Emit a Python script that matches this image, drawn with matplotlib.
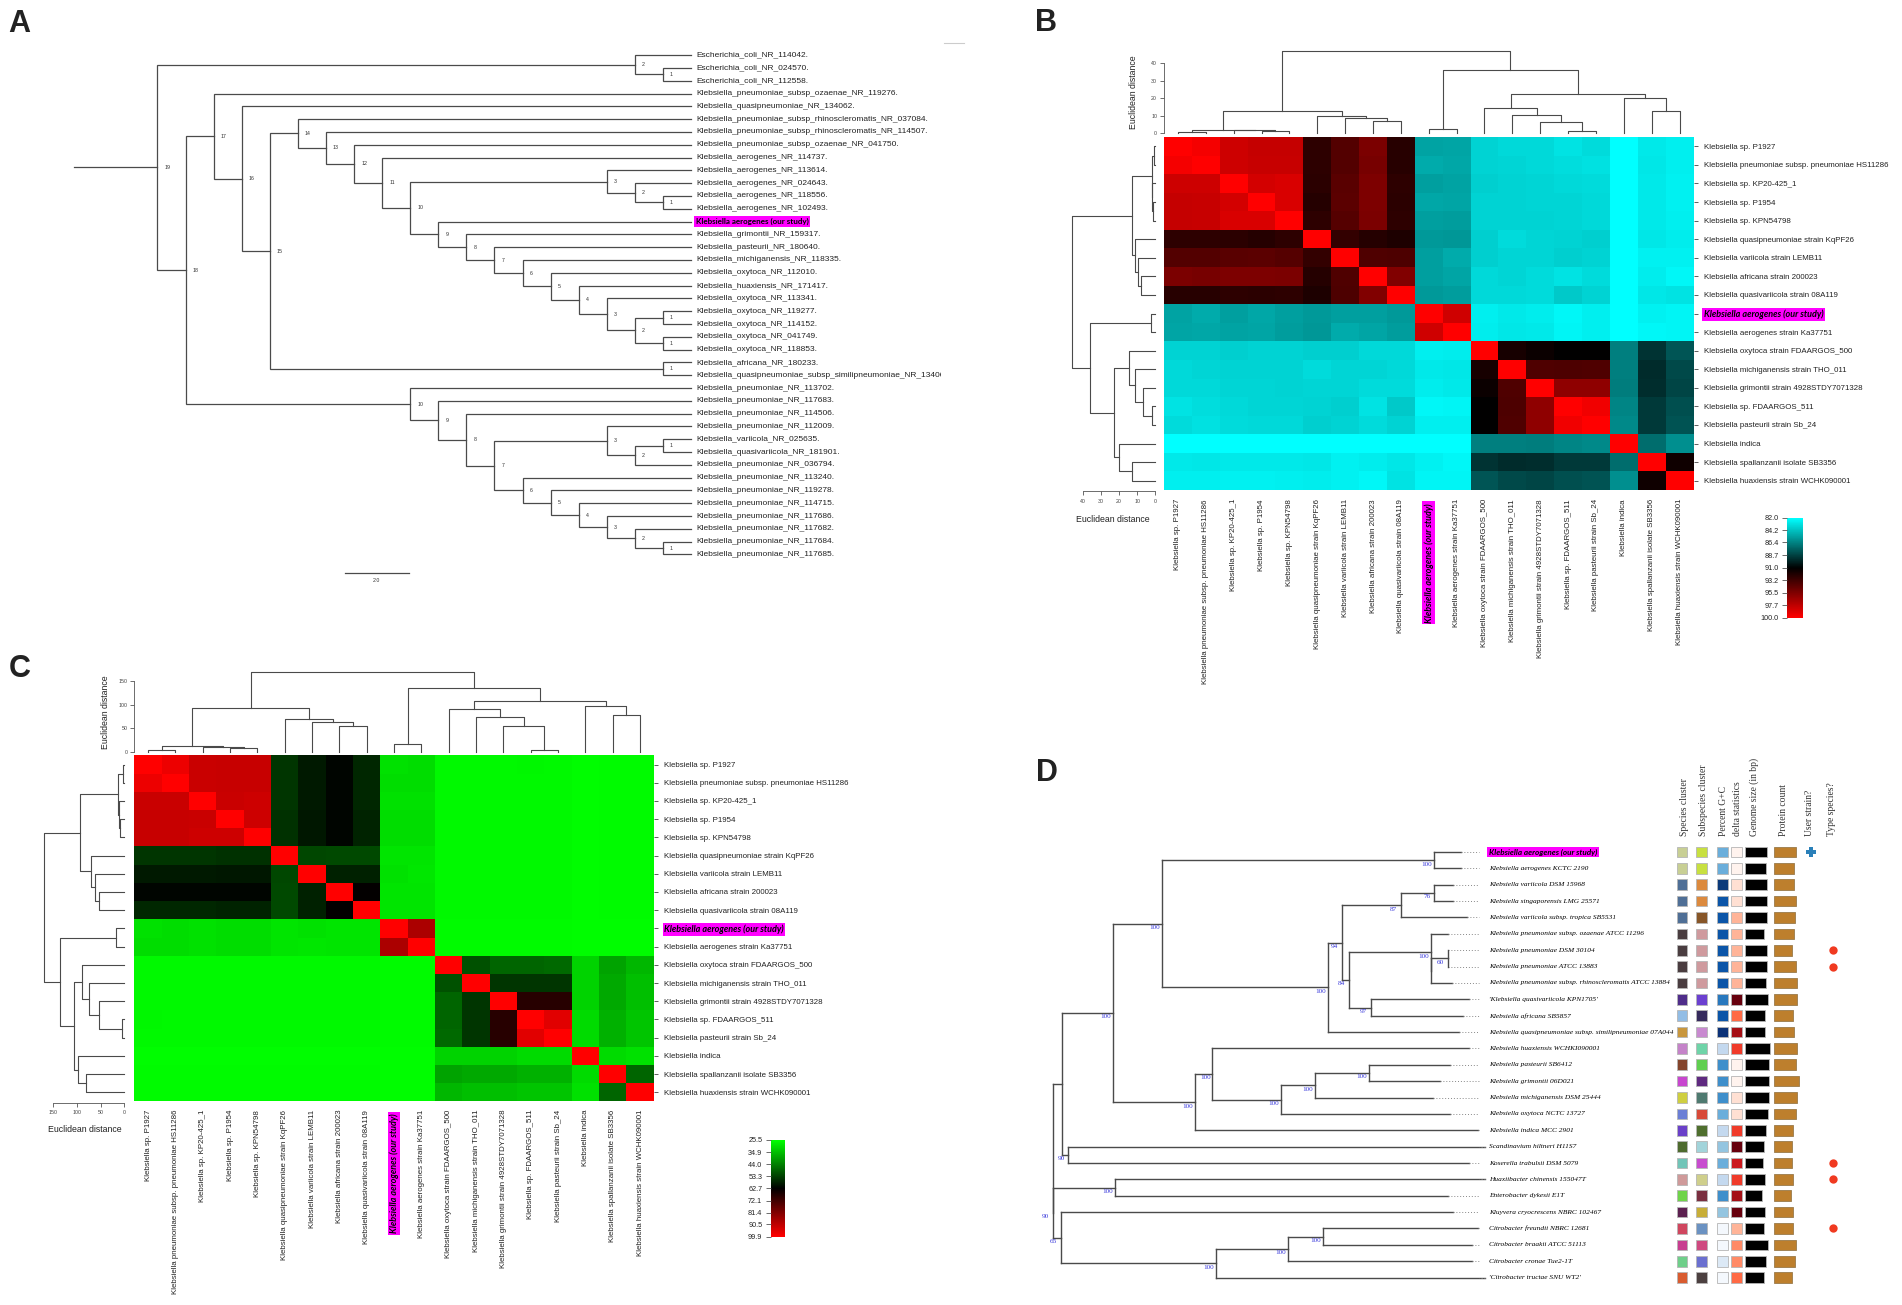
import numpy as np
import matplotlib
matplotlib.use("Agg")
import matplotlib.pyplot as plt
from matplotlib.colors import LinearSegmentedColormap
from matplotlib.lines import Line2D
from matplotlib.transforms import ScaledTranslation

W, H = 1902, 1305
plt.rcParams['font.family'] = ['Liberation Sans', 'DejaVu Sans']

# ---------- panel A data ----------
A_TIPS = [
    "Escherichia_coli_NR_114042.", "Escherichia_coli_NR_024570.", "Escherichia_coli_NR_112558.",
    "Klebsiella_pneumoniae_subsp_ozaenae_NR_119276.", "Klebsiella_quasipneumoniae_NR_134062.",
    "Klebsiella_pneumoniae_subsp_rhinoscleromatis_NR_037084.",
    "Klebsiella_pneumoniae_subsp_rhinoscleromatis_NR_114507.",
    "Klebsiella_pneumoniae_subsp_ozaenae_NR_041750.", "Klebsiella_aerogenes_NR_114737.",
    "Klebsiella_aerogenes_NR_113614.", "Klebsiella_aerogenes_NR_024643.",
    "Klebsiella_aerogenes_NR_118556.", "Klebsiella_aerogenes_NR_102493.",
    "Klebsiella aerogenes (our study)", "Klebsiella_grimontii_NR_159317.",
    "Klebsiella_pasteurii_NR_180640.", "Klebsiella_michiganensis_NR_118335.",
    "Klebsiella_oxytoca_NR_112010.", "Klebsiella_huaxiensis_NR_171417.",
    "Klebsiella_oxytoca_NR_113341.", "Klebsiella_oxytoca_NR_119277.",
    "Klebsiella_oxytoca_NR_114152.", "Klebsiella_oxytoca_NR_041749.",
    "Klebsiella_oxytoca_NR_118853.", "Klebsiella_africana_NR_180233.",
    "Klebsiella_quasipneumoniae_subsp_similipneumoniae_NR_134063.",
    "Klebsiella_pneumoniae_NR_113702.", "Klebsiella_pneumoniae_NR_117683.",
    "Klebsiella_pneumoniae_NR_114506.", "Klebsiella_pneumoniae_NR_112009.",
    "Klebsiella_variicola_NR_025635.", "Klebsiella_quasivariicola_NR_181901.",
    "Klebsiella_pneumoniae_NR_036794.", "Klebsiella_pneumoniae_NR_113240.",
    "Klebsiella_pneumoniae_NR_119278.", "Klebsiella_pneumoniae_NR_114715.",
    "Klebsiella_pneumoniae_NR_117686.", "Klebsiella_pneumoniae_NR_117682.",
    "Klebsiella_pneumoniae_NR_117684.", "Klebsiella_pneumoniae_NR_117685.",
]
A_HIGHLIGHT = 13
# (level, child, child), ints are tips
A_TREE_ECOLI = (2, 0, (1, 1, 2))
A_TREE_OXYTOCA = (3, 19, (2, (1, 20, 21), (1, 22, 23)))
A_TREE_CORE = (9, 13, (8, 14, (7, 15, (6, 16, (5, 17, (4, 18, A_TREE_OXYTOCA))))))
A_TREE_AERO = (10, (3, 9, (2, 10, (1, 11, 12))), A_TREE_CORE)
A_TREE_RHINO = (14, 5, (13, 6, (12, 7, (11, 8, A_TREE_AERO))))
A_TREE_UPPER = (17, 3, (16, 4, (15, A_TREE_RHINO, (1, 24, 25))))
A_TREE_PN = (7, (3, 29, (2, (1, 30, 31), 32)), (6, 33, (5, 34, (4, 35, (3, 36, (2, 37, (1, 38, 39)))))))
A_TREE_LOWER = (10, 26, (9, 27, (8, 28, A_TREE_PN)))
A_TREE = (19, A_TREE_ECOLI, (18, A_TREE_UPPER, A_TREE_LOWER))

# ---------- panels B, C data ----------
HEAT_LABELS = [
    "Klebsiella sp. P1927", "Klebsiella pneumoniae subsp. pneumoniae HS11286",
    "Klebsiella sp. KP20-425_1", "Klebsiella sp. P1954", "Klebsiella sp. KPN54798",
    "Klebsiella quasipneumoniae strain KqPF26", "Klebsiella variicola strain LEMB11",
    "Klebsiella africana strain 200023", "Klebsiella quasivariicola strain 08A119",
    "Klebsiella aerogenes (our study)", "Klebsiella aerogenes strain Ka37751",
    "Klebsiella oxytoca strain FDAARGOS_500", "Klebsiella michiganensis strain THO_011",
    "Klebsiella grimontii strain 4928STDY7071328", "Klebsiella sp. FDAARGOS_511",
    "Klebsiella pasteurii strain Sb_24", "Klebsiella indica",
    "Klebsiella spallanzanii isolate SB3356", "Klebsiella huaxiensis strain WCHK090001",
]
HEAT_HIGHLIGHT = 9

# upper triangle, row by row
B_VALUES = [
    [100, 99.6, 98.2, 97.9, 97.9, 92.6, 93.9, 95.3, 92.4, 85.3, 85.2, 83.6, 83.4, 83.4, 83.0, 83.3, 82.0, 82.8, 82.6],
    [100, 98.2, 98.0, 98.0, 92.6, 93.9, 95.2, 92.4, 85.0, 85.1, 83.6, 83.5, 83.4, 83.2, 83.1, 82.0, 82.9, 82.6],
    [100, 98.4, 98.6, 92.5, 94.1, 95.4, 92.6, 85.4, 85.3, 83.7, 83.6, 83.5, 83.4, 83.3, 82.0, 82.8, 82.5],
    [100, 98.6, 92.3, 94.2, 95.4, 92.5, 85.1, 85.2, 83.6, 83.6, 83.5, 83.5, 83.4, 82.0, 82.8, 82.5],
    [100, 92.6, 94.0, 95.3, 92.6, 85.4, 85.5, 83.6, 83.6, 83.6, 83.5, 83.4, 82.0, 82.8, 82.6],
    [100, 92.8, 92.3, 92.0, 85.6, 85.7, 83.7, 83.3, 83.5, 83.6, 83.7, 82.0, 82.9, 82.7],
    [100, 93.8, 93.7, 85.4, 85.0, 83.7, 83.5, 83.5, 83.7, 83.6, 82.0, 82.5, 82.5],
    [100, 95.5, 85.4, 85.2, 83.4, 83.5, 83.3, 83.0, 83.3, 82.0, 82.7, 82.3],
    [100, 85.6, 85.5, 83.4, 83.4, 83.3, 83.9, 83.6, 82.0, 82.9, 83.0],
    [100, 98.3, 82.6, 82.8, 82.7, 82.3, 82.6, 82.0, 82.5, 82.4],
    [100, 82.7, 82.9, 82.8, 82.4, 82.6, 82.0, 82.3, 82.4],
    [100, 91.8, 91.4, 91.0, 91.0, 86.5, 89.2, 88.0],
    [100, 93.8, 93.7, 93.8, 86.5, 89.5, 88.4],
    [100, 96.0, 96.0, 86.6, 89.4, 88.6],
    [100, 99.5, 86.3, 89.0, 88.2],
    [100, 86.2, 89.0, 88.1],
    [100, 87.2, 86.0],
    [100, 91.5],
    [100],
]
C_VALUES = [
    [99.9, 97.0, 92.0, 91.5, 91.5, 55.0, 59.0, 62.0, 57.0, 30.0, 30.5, 26.5, 26.5, 26.5, 26.7, 26.5, 26.0, 26.2, 26.1],
    [99.9, 92.0, 91.5, 91.5, 55.0, 59.0, 62.0, 57.0, 30.5, 30.5, 26.5, 26.5, 26.5, 26.6, 26.5, 26.0, 26.2, 26.1],
    [99.9, 92.0, 92.5, 55.0, 59.0, 62.0, 57.0, 30.0, 30.0, 26.5, 26.5, 26.5, 26.6, 26.5, 26.0, 26.2, 26.1],
    [99.9, 92.5, 55.5, 59.5, 62.0, 57.5, 30.5, 30.5, 26.5, 26.5, 26.5, 26.6, 26.5, 26.0, 26.2, 26.1],
    [99.9, 55.5, 59.5, 62.0, 57.5, 30.5, 30.5, 26.5, 26.5, 26.5, 26.6, 26.5, 26.0, 26.2, 26.1],
    [99.9, 52.5, 52.0, 52.0, 29.5, 29.5, 26.5, 26.5, 26.5, 26.5, 26.5, 26.0, 26.2, 26.1],
    [99.9, 58.0, 58.0, 30.0, 29.0, 26.5, 26.5, 26.5, 26.5, 26.5, 26.0, 26.2, 26.1],
    [99.9, 63.0, 29.5, 29.5, 26.5, 26.5, 26.5, 26.5, 26.5, 26.0, 26.2, 26.1],
    [99.9, 29.5, 29.5, 26.5, 26.5, 26.5, 26.5, 26.5, 26.0, 26.2, 26.1],
    [99.9, 87.5, 26.2, 26.2, 26.2, 26.2, 26.2, 25.8, 26.0, 25.9],
    [99.9, 26.2, 26.2, 26.2, 26.2, 26.2, 25.8, 26.0, 25.9],
    [99.9, 51.0, 48.0, 48.0, 47.5, 32.0, 39.0, 36.0],
    [99.9, 55.0, 55.0, 55.0, 32.0, 38.0, 35.0],
    [99.9, 68.5, 68.5, 32.0, 38.0, 35.0],
    [99.9, 95.5, 31.0, 37.0, 34.0],
    [99.9, 31.0, 37.0, 34.0],
    [99.9, 31.0, 30.0],
    [99.9, 48.0],
    [99.9],
]

# same clustering in both heatmaps, only the heights differ
HEAT_TREE = ("root",
    ("a",
        ("small", ("s01", 0, 1), ("s2", 2, ("s34", 3, 4))),
        ("mid", 5, ("m1", 6, ("m2", 7, 8)))),
    ("r1",
        ("pair", 9, 10),
        ("r2",
            ("r3", 11, ("r31", 12, ("r32", 13, ("r33", 14, 15)))),
            ("r4", 16, ("r41", 17, 18)))))

B_TOP_HEIGHTS = {"root": 46.9, "a": 12.5, "small": 1.9, "s01": 0.7, "s2": 1.7, "s34": 1.5,
                 "mid": 10.0, "m1": 8.7, "m2": 7.3, "r1": 36.2, "pair": 2.3, "r2": 22.5,
                 "r3": 14.4, "r31": 10.3, "r32": 6.6, "r33": 1.1, "r4": 20.0, "r41": 12.5}
B_LEFT_HEIGHTS = {"root": 46.2, "a": 12.7, "small": 1.6, "s01": 0.8, "s2": 1.5, "s34": 1.2,
                  "mid": 10.9, "m1": 9.3, "m2": 7.8, "r1": 36.0, "pair": 2.2, "r2": 22.6,
                  "r3": 14.6, "r31": 10.9, "r32": 6.8, "r33": 1.9, "r4": 20.2, "r41": 12.7}
C_TOP_HEIGHTS = {"root": 170, "a": 93.4, "small": 12.6, "s01": 3.6, "s2": 10.8, "s34": 9.0,
                 "mid": 70, "m1": 64, "m2": 55.7, "r1": 135.7, "pair": 16, "r2": 108,
                 "r3": 90.7, "r31": 74.6, "r32": 54, "r33": 3.6, "r4": 98, "r41": 79}
C_LEFT_HEIGHTS = {"root": 170, "a": 93.4, "small": 12.7, "s01": 3.5, "s2": 11, "s34": 9.5,
                  "mid": 70, "m1": 63, "m2": 54, "r1": 135, "pair": 17, "r2": 107,
                  "r3": 89, "r31": 75, "r32": 54, "r33": 5.8, "r4": 98, "r41": 80}

B_CBAR_TICKS = [82.0, 84.2, 86.4, 88.7, 91.0, 93.2, 95.5, 97.7, 100.0]
C_CBAR_TICKS = [25.5, 34.9, 44.0, 53.3, 62.7, 72.1, 81.4, 90.5, 99.9]

# ---------- panel D data ----------
D_TIPS = [
    "Klebsiella aerogenes (our study)", "Klebsiella aerogenes KCTC 2190",
    "Klebsiella variicola DSM 15968", "Klebsiella singaporensis LMG 25571",
    "Klebsiella variicola subsp. tropica SB5531", "Klebsiella pneumoniae subsp. ozaenae ATCC 11296",
    "Klebsiella pneumoniae DSM 30104", "Klebsiella pneumoniae ATCC 13883",
    "Klebsiella pneumoniae subsp. rhinoscleromatis ATCC 13884", "'Klebsiella quasivariicola KPN1705'",
    "Klebsiella africana SB5857", "Klebsiella quasipneumoniae subsp. similipneumoniae 07A044",
    "Klebsiella huaxiensis WCHKI090001", "Klebsiella pasteurii SB6412", "Klebsiella grimontii 06D021",
    "Klebsiella michiganensis DSM 25444", "Klebsiella oxytoca NCTC 13727", "Klebsiella indica MCC 2901",
    "Scandinavium hiltneri H11S7", "Koserella trabulsii DSM 5079", "Huaxiibacter chinensis 155047T",
    "Enterobacter dykesii E1T", "Kluyvera cryocrescens NBRC 102467", "Citrobacter freundii NBRC 12681",
    "Citrobacter braakii ATCC 51113", "Citrobacter cronae Tue2-1T", "'Citrobacter tructae SNU WT2'",
]
D_TIP_DEPTH = [775, 775, 760, 760, 785, 752, 752, 752, 758, 790, 778, 772, 790, 755, 738, 725,
               755, 805, 818, 790, 818, 752, 760, 805, 795, 795, 818]
# (depth, support, child, child), None is the next tip
D_TREE_PN = (721, 100, None, (721, None, (751, 60, None, None), None))
D_TREE_KP = (536, 100,
             (561, 94,
              (667, 87, (727, 76, None, None), None),
              (573, 84, D_TREE_PN, (613, 97, None, None))),
             None)
D_TREE_KO = (296, 100,
             (328, 100, None, (452, 100, (513, 100, (610, 100, None, None), None), None)),
             None)
D_TREE_KLEB = (149, 100, (237, 100, (727, 100, None, None), D_TREE_KP), D_TREE_KO)
D_TREE_CIT = (55, 65, None, (335, 100, (464, 100, (527, 100, None, None), None), None))
D_TREE = (41, None,
          (57, None, D_TREE_KLEB, (69, 90, None, None)),
          (41, 90, (152, 100, None, None), D_TREE_CIT))

SPECIES_COLORS = ["#c8cf94", "#c8cf94", "#4f6f96", "#4f6f96", "#4f6f96", "#4a3d40", "#4a3d40", "#4a3d40", "#4a3d40",
                  "#4f2d8a", "#93bde5", "#c9973d", "#c583c9", "#84442c", "#c846cf", "#cfcf40", "#6b7fd6", "#6a40c9",
                  "#4e6b2e", "#71c5b8", "#cf9a9a", "#6fd44a", "#5c2050", "#d0465f", "#c83e90", "#6fcf8a", "#d95c30"]
SUBSPECIES_COLORS = ["#c8e040", "#c8e040", "#dc8a3e", "#dc8a3e", "#875628", "#cf9a9e", "#cf9a9e", "#cf9a9e", "#cf9a9e",
                     "#6b40d0", "#362a5c", "#c98ad0", "#6fd4a8", "#60cf50", "#5f2a80", "#4f7a70", "#d84a38", "#4f6f2e",
                     "#a2d4da", "#c84ccf", "#cfcf8c", "#7a2f40", "#c8ae38", "#6b92c2", "#cf4a80", "#6b70d0", "#4c4040"]
GC_COLORS = ["#6aaedb", "#6aaedb", "#0b3a7a", "#0b55a8", "#0b55a8", "#0b55a8", "#0b55a8", "#0b55a8", "#0b55a8",
             "#2878be", "#0b55a8", "#0b3278", "#c4d9ef", "#3f8fcb", "#3f8fcb", "#3f8fcb", "#6aaedb", "#c4d9ef",
             "#94c5e0", "#6aaedb", "#c4d9ef", "#3f8fcb", "#94c5e0", "#f4f8fd", "#f4f8fd", "#dce9f6", "#f4f8fd"]
DELTA_COLORS = ["#fff3ee", "#fff3ee", "#ffe0d3", "#ffe0d3", "#ffb498", "#ffb498", "#ffb498", "#ffb498", "#ffb498",
                "#67000d", "#ff6a45", "#a50f15", "#f03b2a", "#fff3ee", "#fff3ee", "#ffe0d3", "#ffe0d3", "#f03b2a",
                "#67000d", "#cb181d", "#f03b2a", "#a50f15", "#67000d", "#ffb498", "#ff8a66", "#ff8a66", "#ff6a45"]
GENOME_MB = [5.33, 5.17, 5.33, 5.5, 5.33, 4.75, 5.33, 5.33, 5.17, 5.75, 5.0, 5.0, 6.17, 6.0, 6.0, 5.92, 5.75,
             5.17, 4.75, 4.5, 5.0, 4.25, 5.0, 4.75, 5.58, 5.17, 4.75]
PROTEIN_K = [5.04, 4.65, 4.65, 5.04, 4.88, 4.65, 4.26, 5.04, 5.43, 5.35, 4.5, 4.65, 5.35, 5.19, 5.74, 5.35, 5.04,
             4.5, 4.26, 4.26, 4.5, 3.88, 4.5, 4.5, 5.04, 4.88, 4.26]
USER_STRAIN_ROWS = [0]
TYPE_SPECIES_ROWS = [6, 7, 19, 20, 23]
D_HEADERS = ["Species cluster", "Subspecies cluster", "Percent G+C", "delta statistics",
             "Genome size (in bp)", "Protein count", "User strain?", "Type species?"]

MAGENTA = "#ff00ff"
TEXT = "#222222"
LINE = "#4a4a4a"

fig = plt.figure(figsize=(W / 100, H / 100), dpi=100, facecolor="white")


def axes_px(x0, y0, x1, y1):
    ax = fig.add_axes([x0 / W, 1 - y1 / H, (x1 - x0) / W, (y1 - y0) / H])
    ax.patch.set_alpha(0)
    return ax


def bare(ax):
    ax.set_xticks([])
    ax.set_yticks([])
    for s in ax.spines.values():
        s.set_visible(False)


def highlight(t, size, style="normal"):
    t.set(family=["Lato", "DejaVu Sans"], fontweight="bold", fontstyle=style, fontsize=size, color="black",
          bbox=dict(facecolor=MAGENTA, edgecolor="none", pad=1.2))


# ---------- A ----------
ax = axes_px(691 - 28.08 * 22, 42.3, 941, 592.9)
ax.set_xlim(22, -(941 - 691) / 28.08)
ax.set_ylim(42, -1)
bare(ax)


def draw_a(node):
    if isinstance(node, int):
        return node, 0
    level, left, right = node
    y1, l1 = draw_a(left)
    y2, l2 = draw_a(right)
    ax.plot([l1, level, level, l2], [y1, y1, y2, y2], color=LINE, lw=0.9, solid_joinstyle="miter")
    y = (y1 + y2) / 2
    ax.text(level - 0.25, y, str(level), fontsize=3.8, color="#333333", va="center", ha="left")
    return y, level


root_y, root_level = draw_a(A_TREE)
ax.plot([21.97, root_level], [root_y, root_y], color=LINE, lw=0.9)
for i, name in enumerate(A_TIPS):
    t = ax.text(-0.18, i, name, fontsize=6.0, color=TEXT, va="center", ha="left", clip_on=True)
    if i == A_HIGHLIGHT:
        highlight(t, 5.8)
ax.plot([12.33, 10.04], [40.44, 40.44], color=LINE, lw=0.9)
ax.text(11.2, 41.05, "2.0", fontsize=3.8, color="#333333", ha="center", va="center")
fig.add_artist(Line2D([944 / W, 964 / W], [1 - 43 / H, 1 - 43 / H], color="#cccccc", lw=0.8))


# ---------- B, C ----------
def dendro(node, heights):
    """Returns list of segments and (position, height) of the node."""
    if isinstance(node, int):
        return [], node + 0.5, 0
    name, left, right = node
    s1, p1, h1 = dendro(left, heights)
    s2, p2, h2 = dendro(right, heights)
    h = heights[name]
    return s1 + s2 + [([p1, p1, p2, p2], [h1, h, h, h2])], (p1 + p2) / 2, h


def heat_panel(box, values, colors, vmin, vmax, top_heights, left_heights, top_scale, left_scale,
               top_ticks, left_ticks, top_label, left_label, cbar_box, cbar_ticks, bar_gap, left_axis_x0):
    x0, y0, x1, y1 = box
    n = len(values)
    matrix = np.zeros((n, n))
    for i, row in enumerate(values):
        matrix[i, i:] = row
        matrix[i:, i] = row
    cmap = LinearSegmentedColormap.from_list("heat", colors)
    hm = axes_px(x0, y0, x1, y1)
    mesh = hm.pcolormesh(np.arange(n + 1), np.arange(n + 1), matrix, cmap=cmap, vmin=vmin, vmax=vmax)
    hm.set_xlim(0, n)
    hm.set_ylim(n, 0)
    for s in hm.spines.values():
        s.set_visible(False)
    hm.yaxis.tick_right()
    hm.set_yticks(np.arange(n) + 0.5, HEAT_LABELS, fontsize=5.65, color=TEXT)
    hm.set_xticks(np.arange(n) + 0.5, HEAT_LABELS, fontsize=5.65, color=TEXT, rotation=90, va="top", ha="center")
    hm.tick_params(axis="y", length=3, width=0.6, pad=4.5, color="#444444")
    hm.tick_params(axis="x", length=0, pad=bar_gap)
    highlight(hm.get_yticklabels()[HEAT_HIGHLIGHT], 6.5, "italic")
    lab = hm.get_xticklabels()[HEAT_HIGHLIGHT]
    highlight(lab, 6.5, "italic")
    lab.set_transform(lab.get_transform() + ScaledTranslation(0, -4 / 100, fig.dpi_scale_trans))

    # top dendrogram
    top = axes_px(x0, y0 - 3.6 - top_scale * max(top_ticks) * 1.25, x1, y0 - 3.6)
    top.set_xlim(0, n)
    top.set_ylim(0, max(top_ticks) * 1.25)
    for xs, ys in dendro(HEAT_TREE, top_heights)[0]:
        top.plot(xs, ys, color=LINE, lw=0.8, clip_on=False)
    for s in ["top", "right", "bottom"]:
        top.spines[s].set_visible(False)
    top.spines["left"].set_bounds(0, max(top_ticks))
    top.spines["left"].set(linewidth=0.6, color="#555555")
    top.set_xticks([])
    top.set_yticks(top_ticks)
    top.tick_params(axis="y", length=3, width=0.6, labelsize=3.8, pad=2, color="#555555", labelcolor="#444444")
    top.text(top_label[0], top_label[1], "Euclidean distance", transform=fig.transFigure, rotation=90,
             fontsize=6.3, color=TEXT, ha="center", va="center")

    # left dendrogram
    x_zero = left_axis_x0
    span = max(left_ticks) * 1.3
    lft = axes_px(x_zero - left_scale * span, y0, x_zero, y1)
    lft.set_xlim(span, 0)
    lft.set_ylim(n, 0)
    for ys, xs in dendro(HEAT_TREE, left_heights)[0]:
        lft.plot(xs, ys, color=LINE, lw=0.8, clip_on=False)
    for s in ["top", "right", "left"]:
        lft.spines[s].set_visible(False)
    lft.spines["bottom"].set_bounds(0, max(left_ticks))
    lft.spines["bottom"].set(linewidth=0.6, color="#555555", position=("outward", 1))
    lft.set_yticks([])
    lft.set_xticks(left_ticks)
    lft.tick_params(axis="x", length=3, width=0.6, labelsize=3.8, pad=2.5, color="#555555", labelcolor="#444444")
    lft.text(left_label[0], left_label[1], "Euclidean distance", transform=fig.transFigure,
             fontsize=6.3, color=TEXT, ha="center", va="center")

    # colour key
    cax = axes_px(*cbar_box)
    cb = fig.colorbar(mesh, cax=cax, ticks=cbar_ticks, format="%.1f")
    cax.yaxis.set_ticks_position("left")
    cax.invert_yaxis()
    cb.outline.set_visible(False)
    cax.tick_params(axis="y", length=3.5, width=0.6, labelsize=5.2, pad=2.5, color="#555555", labelcolor=TEXT)


heat_panel((1164, 137, 1693.5, 490), B_VALUES, ["#00ffff", "#000000", "#ff0000"], 82, 100,
           B_TOP_HEIGHTS, B_LEFT_HEIGHTS, 1.7525, 1.794, [0, 10, 20, 30, 40], [0, 10, 20, 30, 40],
           (1134 / W, 1 - 92.4 / H), (1113 / W, 1 - 519 / H),
           (1787, 518, 1803, 618), B_CBAR_TICKS, 6.5, 1155)
heat_panel((134.4, 755.4, 653.8, 1101.4), C_VALUES, ["#00ff00", "#000000", "#ff0000"], 25.5, 99.9,
           C_TOP_HEIGHTS, C_LEFT_HEIGHTS, 0.472, 0.4756, [0, 50, 100, 150], [0, 50, 100, 150],
           (105 / W, 1 - 712.5 / H), (84.5 / W, 1 - 1130 / H),
           (770.6, 1140, 785.4, 1236.7), C_CBAR_TICKS, 6.0, 124.5)

# ---------- D ----------
row_h = 16.37
ax = axes_px(1030, 852 - row_h, 1030 + 820 * 0.5561, 1277.6 + row_h)
ax.set_xlim(0, 820)
ax.set_ylim(27, -1)
bare(ax)
next_tip = iter(range(len(D_TIPS)))


def draw_d(node, parent_x):
    if node is None:
        row = next(next_tip)
        end = D_TIP_DEPTH[row]
        ax.plot([parent_x, end], [row, row], color=LINE, lw=1.0, clip_on=False)
        ax.plot([end, 808], [row, row], color="#888888", lw=0.7, ls=(0, (1, 2)), clip_on=False)
        return row
    depth, support, left, right = node
    y1 = draw_d(left, depth)
    y2 = draw_d(right, depth)
    y = (y1 + y2) / 2
    ax.plot([depth, depth], [y1, y2], color=LINE, lw=1.0, clip_on=False)
    if parent_x is not None:
        ax.plot([parent_x, depth], [y, y], color=LINE, lw=1.0, clip_on=False)
    if support is not None:
        ax.text(depth - 13, y + 0.24, str(support), color="#3c3cdc", fontsize=5.2,
                family=["Liberation Serif"], ha="center", va="center", clip_on=False)
    return y


draw_d(D_TREE, None)

strip = axes_px(1486, 852 - row_h, 1860, 1277.6 + row_h)
strip.set_xlim(1486, 1860)
strip.set_ylim(27, -1)
bare(strip)
rows = np.arange(len(D_TIPS))
bar_h = 0.65
edge = dict(edgecolor="#b5b5b5", linewidth=0.6)
for start, colors in [(1676.7, SPECIES_COLORS), (1696.3, SUBSPECIES_COLORS), (1717, GC_COLORS), (1731, DELTA_COLORS)]:
    strip.barh(rows, 10.7, left=start, height=bar_h, color=colors, **edge)
strip.barh(rows, np.array(GENOME_MB) * 4.0, left=1745.3, height=bar_h, color="black", **edge)
strip.barh(rows, np.array(PROTEIN_K) * 4.3, left=1774, height=bar_h, color="#bd7f2d", edgecolor="#9a7a4a", linewidth=0.6)
strip.scatter([1811] * len(USER_STRAIN_ROWS), USER_STRAIN_ROWS, marker="P", s=55, color="#2a80b9", linewidths=0)
strip.scatter([1833] * len(TYPE_SPECIES_ROWS), TYPE_SPECIES_ROWS, marker="o", s=36, color="#f03a20", linewidths=0)
for i, name in enumerate(D_TIPS):
    t = strip.text(1489, i, name, fontsize=5.35, family=["Liberation Serif"], style="italic", color="black",
                   va="center", ha="left")
    if i == 0:
        highlight(t, 5.9, "italic")
for x, name in zip([1684.5, 1704, 1723.5, 1737, 1754.6, 1783.5, 1809, 1831], D_HEADERS):
    fig.text(x / W, 1 - 835.5 / H, name, rotation=90, fontsize=6.9, family=["Liberation Serif"],
             color="#333333", ha="center", va="bottom")

# ---------- panel letters ----------
for letter, x, y in [("A", 8, 32.5), ("B", 1035, 31), ("C", 9, 677), ("D", 1036, 781)]:
    fig.text(x / W, 1 - y / H, letter, fontsize=22, fontweight="bold", color="#222222", ha="left", va="baseline")

fig.savefig("out.png", dpi=100)
